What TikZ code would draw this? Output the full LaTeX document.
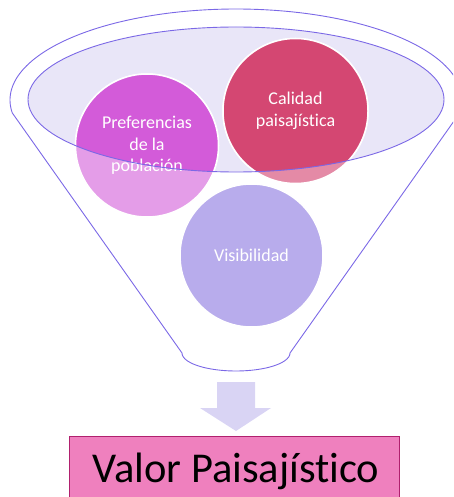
\documentclass[tikz,border=0pt]{standalone}
\usepackage{fontspec}
\setmainfont[Ligatures={NoCommon}]{Carlito}
\definecolor{funnelline}{RGB}{123,104,230}
\definecolor{ellfill}{RGB}{233,230,248}
\definecolor{prefdark}{RGB}{211,91,217}
\definecolor{preflight}{RGB}{228,157,232}
\definecolor{caldark}{RGB}{212,71,114}
\definecolor{callight}{RGB}{228,138,166}
\definecolor{visc}{RGB}{184,172,236}
\definecolor{arrowc}{RGB}{217,212,244}
\definecolor{boxfill}{RGB}{239,128,190}
\definecolor{boxline}{RGB}{176,32,110}
\begin{document}
\begin{tikzpicture}[x=1pt,y=-1pt,
  funnel/.style={draw=funnelline, line width=0.9pt},
  ball/.style={circle, minimum size=143pt, inner sep=0pt, draw=white, line width=1.5pt},
  balltext/.style={text=white, font=\fontsize{18}{21.5}\selectfont, align=center, inner sep=0pt},
]
\useasboundingbox (0,0) rectangle (453,497);
\clip (0,0) rectangle (453,497);
% outer funnel
\draw[funnel] plot[domain=188.2:-8.2,samples=150] ({236+226*cos(\x)},{100-91*sin(\x)})
  -- (290,353) -- plot[domain=0:180,samples=40] ({236+54*cos(\x)},{353+18*sin(\x)}) -- cycle;
% inner ellipse fill
\fill[ellfill] (236,99.5) ellipse [x radius=208pt, y radius=72.5pt];
% circles (light parts)
\node (pref) [ball, fill=preflight] at (147,145.5) {};
\node (cal) [ball, fill=callight, minimum size=145pt] at (295.5,111) {};
\node (vis) [ball, fill=visc] at (251.5,255.5) {};
% darker parts inside the ellipse
\begin{scope}
  \clip (236,99.5) ellipse [x radius=208pt, y radius=72.5pt];
  \filldraw[fill=prefdark, draw=white, line width=1.5pt] (pref.center) circle (71.5pt);
  \filldraw[fill=caldark, draw=white, line width=1.5pt] (cal.center) circle (72.5pt);
\end{scope}
% texts
\node (preft) [balltext] at (pref.center) {Preferencias\\de la\\población};
\node (calt) [balltext] at (cal.center) {Calidad\\paisajística};
\node (vist) [balltext] at (vis.center) {Visibilidad};
% ellipse outline
\draw[funnel] (236,99.5) ellipse [x radius=208pt, y radius=72.5pt];
% block arrow
\fill[arrowc] (217,382) -- (255,382) -- (255,408) -- (271,408) -- (236,431) -- (200,408) -- (217,408) -- cycle;
% result box
\node (valor) [draw=boxline, fill=boxfill, line width=1pt, minimum width=330pt, minimum height=75pt, anchor=north west, inner sep=0pt] at (69,436) {};
\node (valort) [anchor=base, inner sep=0pt, font=\fontsize{42.5}{50}\selectfont] at (236,482) {Valor Paisajístico};
\end{tikzpicture}
\end{document}
